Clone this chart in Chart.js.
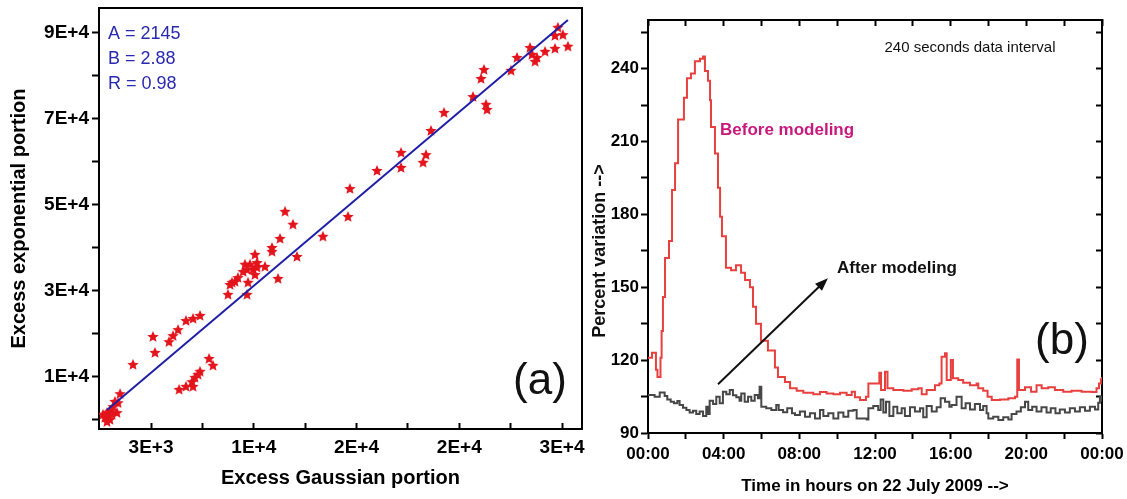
<!DOCTYPE html>
<html>
<head>
<meta charset="utf-8">
<script src="https://cdn.jsdelivr.net/npm/chart.js@4.4.0/dist/chart.umd.min.js"></script>
<style>
  html, body { margin: 0; padding: 0; background: #fff; }
  #wrap { position: relative; width: 1127px; height: 499px; overflow: hidden; }
  #chart-a { position: absolute; left: 0; top: 0; }
  #chart-b { position: absolute; left: 590px; top: 0; }
</style>
</head>
<body>
<div id="wrap">
  <canvas id="chart-a" width="590" height="499"></canvas>
  <canvas id="chart-b" width="537" height="499"></canvas>
</div>
<script>
// ---- panel (a): excess gaussian vs exponential portion ----
const gaussX = [30720, 31060, 30520, 31400, 30520, 29840, 28820, 28950, 29290, 29160,
    27930, 27520, 25680, 25480, 24930, 25820, 25890, 22960, 22070, 20030,
    21730, 21530, 20030, 18390, 16550, 16420, 14710, 12130, 12670, 11790,
    11240, 12940, 11240, 11650, 10760, 10080, 10220, 9950, 9740, 9400,
    9540, 9270, 9610, 9540, 8920, 8720, 8520, 8380, 8240, 10220,
    10080, 6340, 5860, 5380, 4840, 4500, 4220, 3130, 3270, 1770,
    6950, 7220, 6340, 6200, 5990, 5790, 5860, 5380, 4910, 890,
    540, 750, 410, 200, 0, 70, -140, 200, 0, 680, 340, -270];
const expoY = [91200, 89500, 89300, 86800, 86300, 85600, 86500, 84900, 84200, 83300,
    84200, 81200, 81400, 79300, 75100, 73300, 72100, 71400, 67200, 62100,
    61600, 59800, 58600, 57900, 53700, 47200, 42600, 48400, 45400, 42100,
    40000, 37900, 39100, 32800, 35600, 38400, 36500, 34900, 36100, 36100,
    34900, 34400, 31900, 29100, 33000, 32100, 31900, 31400, 29100, 35400,
    33700, 24200, 23500, 23000, 20900, 19500, 18100, 19300, 15600, 12800,
    14200, 12600, 11200, 10500, 9800, 8800, 7700, 7700, 7000, 6000,
    4200, 3900, 3000, 1900, 1600, 700, 500, 0, -500, 1600, 1200, 1200];
// fitted line, end points
const fitX = [0, 31400];
const fitY = [2300, 93000];
const fitNotes = ['A = 2145', 'B = 2.88', 'R = 0.98'];

const aXMajor = [3000, 10000, 17000, 24000, 31000];
const aXLabels = ['3E+3', '1E+4', '2E+4', '2E+4', '3E+4'];
const aXMinor = [6500, 13500, 20500, 27500];
const aYMajor = [10000, 30000, 50000, 70000, 90000];
const aYLabels = ['1E+4', '3E+4', '5E+4', '7E+4', '9E+4'];
const aYMinor = [0, 20000, 40000, 60000, 80000];

// ---- panel (b): percent variation over the day ----
const beforeHours = [0, 0.21, 0.42, 0.5, 0.66, 0.72, 0.79, 0.9, 1.11, 1.27,
    1.43, 1.59, 1.9, 2.06, 2.27, 2.48, 2.75, 2.91, 3.01, 3.17,
    3.28, 3.33, 3.54, 3.7, 3.81, 3.91, 4.12, 4.39, 4.65, 4.92,
    5.13, 5.39, 5.55, 5.71, 5.97, 6.34, 6.71, 6.87, 7.24, 7.51,
    7.86, 8.21, 8.74, 9.09, 9.44, 9.8, 10.15, 10.5, 10.77, 10.94,
    11.21, 11.52, 11.65, 12.23, 12.32, 12.53, 12.66, 12.97, 13.5, 13.94,
    14.29, 14.47, 14.73, 15.17, 15.4, 15.52, 15.7, 15.79, 16.01, 16.12,
    16.4, 16.66, 17.02, 17.37, 17.46, 17.72, 17.95, 18.17, 18.61, 19.05,
    19.4, 19.52, 19.61, 19.93, 20.25, 20.54, 20.81, 21.16, 21.51, 21.95,
    22.39, 22.92, 23.45, 23.71, 23.84, 23.94, 24];
const beforeVals = [121, 123, 116, 113, 121, 132, 146, 162, 169, 190,
    201, 219, 228, 236, 238, 243, 244, 245, 239, 235,
    227, 216, 205, 191, 179, 171, 158, 157, 159, 156,
    153, 150, 142, 135, 128, 124, 117, 113, 111, 108.4,
    107.4, 106.6, 106, 106.9, 106.3, 106, 106.6, 105.6, 107, 104.7,
    103.6, 104.9, 110.4, 114.8, 107.7, 115.2, 108.4, 107.7, 107.4, 108,
    108.4, 106, 107.7, 109.7, 110.4, 121.4, 122.8, 111.8, 120, 112.5,
    111.8, 110.7, 109.7, 110.4, 108.4, 107.4, 104.9, 103.6, 103.8, 104.3,
    104.9, 120.3, 107.7, 108.8, 107, 109.7, 108.4, 108.8, 107.7, 107,
    107.4, 107, 106.9, 108.4, 110.4, 112.1, 113];

const afterHours = [0, 0.35, 0.62, 0.88, 1.02, 1.2, 1.37, 1.55, 1.67, 1.85,
    2.03, 2.2, 2.38, 2.55, 2.73, 2.91, 3.08, 3.17, 3.26, 3.44,
    3.61, 3.79, 3.96, 4.14, 4.32, 4.49, 4.67, 4.84, 4.93, 5.11,
    5.29, 5.46, 5.64, 5.81, 5.9, 5.99, 6.25, 6.52, 6.78, 6.91,
    7.14, 7.36, 7.61, 7.77, 8.03, 8.3, 8.56, 8.83, 9.09, 9.27,
    9.53, 9.8, 10.06, 10.33, 10.59, 10.86, 11.03, 11.56, 11.65, 11.91,
    12.17, 12.3, 12.44, 12.58, 12.76, 12.97, 13.18, 13.41, 13.58, 13.85,
    14.11, 14.38, 14.55, 14.73, 15, 15.26, 15.47, 15.7, 15.93, 16.05,
    16.31, 16.58, 16.79, 17.02, 17.28, 17.55, 17.72, 17.9, 17.99, 18.25,
    18.52, 18.78, 19.05, 19.22, 19.48, 19.71, 19.93, 20.1, 20.31, 20.54,
    20.8, 21.07, 21.29, 21.54, 21.77, 22.04, 22.3, 22.57, 22.83, 23.1,
    23.36, 23.63, 23.8, 23.89, 24];
const afterVals = [105.6, 104.9, 106.7, 105.2, 103.8, 102.9, 102.2, 103.2, 101.5, 100.4,
    99.5, 98.4, 99.2, 97.8, 98.8, 97, 100.8, 97.8, 103.3, 101.9,
    104.9, 102.2, 107, 106, 107.7, 105.5, 104.7, 103.3, 106.3, 102.9,
    104.9, 103.3, 105.6, 104.3, 109, 100.8, 100.2, 99.5, 101.5, 99.5,
    98.5, 100.2, 98.1, 97.4, 98.8, 96.7, 98.1, 96, 99.5, 97,
    98.1, 96, 98.4, 96.7, 99.2, 99.5, 96, 95.6, 100.2, 101.1,
    99.5, 103.8, 98.4, 102.9, 97, 100.8, 98.1, 100.2, 97, 100.6,
    98.8, 100.2, 96.5, 101.1, 98.8, 100.6, 104.3, 102.9, 100.8, 101.5,
    104.9, 100.2, 102.2, 99.7, 101.9, 99.5, 101.1, 98.1, 96, 96.7,
    95.3, 96.5, 95.6, 97.8, 98.8, 100.6, 102.9, 99.5, 100.8, 98.8,
    100.6, 98.4, 100.2, 98.1, 99.7, 98.4, 100.2, 98.8, 100.6, 99.2,
    100.8, 99.7, 102.5, 104.9, 103];

const timeMajor = [0, 4, 8, 12, 16, 20, 24];
const timeLabels = ['00:00', '04:00', '08:00', '12:00', '16:00', '20:00', '00:00'];
const timeMinor = [2, 6, 10, 14, 18, 22];
const pctMajor = [90, 120, 150, 180, 210, 240];
const pctLabels = ['90', '120', '150', '180', '210', '240'];
const pctMinor = [105, 135, 165, 195, 225, 255];

const FONT = '"Liberation Sans", Arial, Helvetica, sans-serif';
Chart.defaults.font.family = FONT;
Chart.defaults.color = '#000';

function setTicks(major, minor) {
    return function (scale) {
        scale.ticks = major.concat(minor).sort((p, q) => p - q).map(v => ({ value: v }));
    };
}

function labelFrom(major, labels) {
    return function (value) {
        const i = major.indexOf(value);
        return i < 0 ? '' : labels[i];
    };
}

function fixWidth(w) {
    return function (scale) {
        scale.width = w;
        scale.paddingTop = 0;
        scale.paddingBottom = 0;
    };
}

function fixHeight(h) {
    return function (scale) {
        scale.height = h;
        scale.paddingLeft = 0;
        scale.paddingRight = 0;
    };
}

function toPoints(xs, ys) {
    return xs.map((x, i) => ({ x: x, y: ys[i] }));
}

function makeStar(r, color) {
    const c = document.createElement('canvas');
    c.width = c.height = 2 * r + 2;
    const ctx = c.getContext('2d');
    ctx.beginPath();
    for (let i = 0; i < 10; i++) {
        const rad = i % 2 ? r * 0.45 : r;
        const ang = -Math.PI / 2 + i * Math.PI / 5;
        ctx.lineTo(r + 1 + rad * Math.cos(ang), r + 1 + rad * Math.sin(ang));
    }
    ctx.closePath();
    ctx.fillStyle = color;
    ctx.fill();
    return c;
}

const frameBorder = { display: true, color: '#000', width: 2 };
const plainEdge = (axis, pos, min, max, size) => ({
    axis: axis, position: pos, type: 'linear', min: min, max: max,
    ticks: { display: false },
    grid: { drawOnChartArea: false, drawTicks: false },
    border: frameBorder,
    afterFit: axis === 'x' ? fixHeight(size) : fixWidth(size)
});

// text for panel (a)
const panelAText = {
    id: 'panelAText',
    afterDraw(chart) {
        const { ctx, chartArea } = chart;
        ctx.save();
        ctx.textBaseline = 'middle';
        ctx.fillStyle = '#2a2ab0';
        ctx.font = '18px ' + FONT;
        fitNotes.forEach((t, i) => ctx.fillText(t, chartArea.left + 9, chartArea.top + 26 + i * 25));
        ctx.fillStyle = '#111';
        ctx.font = '44px ' + FONT;
        ctx.textAlign = 'center';
        ctx.fillText('(a)', chartArea.left + 441, chartArea.top + 374);
        ctx.restore();
    }
};

new Chart(document.getElementById('chart-a'), {
    type: 'scatter',
    data: {
        datasets: [
            {
                label: 'fit',
                data: toPoints(fitX, fitY),
                showLine: true,
                borderColor: '#1f1fa8',
                borderWidth: 2,
                pointRadius: 0
            },
            {
                label: 'excess',
                data: toPoints(gaussX, expoY),
                pointStyle: makeStar(6, '#e3141c'),
                pointRadius: 6
            }
        ]
    },
    options: {
        responsive: false,
        animation: false,
        layout: { padding: 0 },
        plugins: { legend: { display: false }, tooltip: { enabled: false } },
        scales: {
            x: {
                type: 'linear', position: 'bottom', min: -545, max: 32360,
                afterBuildTicks: setTicks(aXMajor, aXMinor),
                afterFit: fixHeight(70),
                ticks: {
                    callback: labelFrom(aXMajor, aXLabels), autoSkip: false, maxRotation: 0,
                    padding: 13, font: { size: 19, weight: 'bold' }
                },
                grid: { drawOnChartArea: false, tickLength: -6, tickWidth: 2, tickColor: '#000' },
                border: frameBorder,
                title: {
                    display: true, text: 'Excess Gaussian portion',
                    font: { size: 20, weight: 'bold' }, padding: { top: 0, bottom: 9 }
                }
            },
            y: {
                type: 'linear', position: 'left', min: -2100, max: 95800,
                afterBuildTicks: setTicks(aYMajor, aYMinor),
                afterFit: fixWidth(99),
                ticks: {
                    callback: labelFrom(aYMajor, aYLabels), autoSkip: false,
                    padding: 3, font: { size: 19, weight: 'bold' }
                },
                grid: { drawOnChartArea: false, tickLength: 7, tickWidth: 2, tickColor: '#000' },
                border: frameBorder,
                title: {
                    display: true, text: 'Excess exponential portion',
                    font: { size: 20, weight: 'bold' }, padding: { top: 7, bottom: 0 }
                }
            },
            xTop: plainEdge('x', 'top', -545, 32360, 8),
            yRight: plainEdge('y', 'right', -2100, 95800, 8)
        }
    },
    plugins: [panelAText]
});

// text and arrow for panel (b)
const panelBText = {
    id: 'panelBText',
    afterDraw(chart) {
        const { ctx, chartArea } = chart;
        const xs = chart.scales.x;
        const ys = chart.scales.y;
        ctx.save();
        ctx.textBaseline = 'middle';
        ctx.fillStyle = '#111';
        ctx.font = '15px ' + FONT;
        ctx.textAlign = 'center';
        ctx.fillText('240 seconds data interval', chartArea.left + 322, chartArea.top + 28);

        ctx.textAlign = 'left';
        ctx.font = 'bold 17px ' + FONT;
        ctx.fillStyle = '#c8197d';
        ctx.fillText('Before modeling', chartArea.left + 72, chartArea.top + 110);
        ctx.fillStyle = '#111';
        ctx.fillText('After modeling', chartArea.left + 189, chartArea.top + 248);

        ctx.font = '44px ' + FONT;
        ctx.textAlign = 'center';
        ctx.fillText('(b)', chartArea.left + 414, chartArea.top + 322);

        // y axis title, drawn here to sit where the original has it
        ctx.save();
        ctx.translate(10, 251);
        ctx.rotate(-Math.PI / 2);
        ctx.font = 'bold 18px ' + FONT;
        ctx.fillText('Percent variation -->', 0, 0);
        ctx.restore();

        // arrow pointing at the lower curve label
        const x0 = xs.getPixelForValue(3.7), y0 = ys.getPixelForValue(110.1);
        const x1 = xs.getPixelForValue(9.51), y1 = ys.getPixelForValue(153.7);
        const ang = Math.atan2(y1 - y0, x1 - x0);
        ctx.strokeStyle = '#111';
        ctx.lineWidth = 2;
        ctx.beginPath();
        ctx.moveTo(x0, y0);
        ctx.lineTo(x1 - 8 * Math.cos(ang), y1 - 8 * Math.sin(ang));
        ctx.stroke();
        ctx.beginPath();
        ctx.moveTo(x1, y1);
        ctx.lineTo(x1 - 13 * Math.cos(ang) + 5 * Math.sin(ang), y1 - 13 * Math.sin(ang) - 5 * Math.cos(ang));
        ctx.lineTo(x1 - 13 * Math.cos(ang) - 5 * Math.sin(ang), y1 - 13 * Math.sin(ang) + 5 * Math.cos(ang));
        ctx.closePath();
        ctx.fillStyle = '#111';
        ctx.fill();
        ctx.restore();
    }
};

new Chart(document.getElementById('chart-b'), {
    type: 'line',
    data: {
        datasets: [
            {
                label: 'After modeling',
                data: toPoints(afterHours, afterVals),
                stepped: true,
                borderColor: '#474747',
                borderWidth: 2,
                pointRadius: 0
            },
            {
                label: 'Before modeling',
                data: toPoints(beforeHours, beforeVals),
                stepped: true,
                borderColor: '#e8403f',
                borderWidth: 2,
                pointRadius: 0
            }
        ]
    },
    options: {
        responsive: false,
        animation: false,
        layout: { padding: 0 },
        plugins: { legend: { display: false }, tooltip: { enabled: false } },
        scales: {
            x: {
                type: 'linear', position: 'bottom', min: 0, max: 24,
                afterBuildTicks: setTicks(timeMajor, timeMinor),
                afterFit: fixHeight(66),
                ticks: {
                    callback: labelFrom(timeMajor, timeLabels), autoSkip: false, maxRotation: 0,
                    padding: 5, font: { size: 17, weight: 'bold' }
                },
                grid: { drawOnChartArea: false, tickLength: 6, tickWidth: 2, tickColor: '#000' },
                border: frameBorder,
                title: {
                    display: true, text: 'Time in hours on 22 July 2009 -->',
                    font: { size: 17, weight: 'bold' }, padding: { top: 0, bottom: 2 }
                }
            },
            y: {
                type: 'linear', position: 'left', min: 90, max: 260,
                afterBuildTicks: setTicks(pctMajor, pctMinor),
                afterFit: fixWidth(58),
                ticks: {
                    callback: labelFrom(pctMajor, pctLabels), autoSkip: false,
                    padding: 2, font: { size: 17, weight: 'bold' }
                },
                grid: { drawOnChartArea: false, tickLength: 7, tickWidth: 2, tickColor: '#000' },
                border: frameBorder
            },
            xTop: {
                axis: 'x', type: 'linear', position: 'top', min: 0, max: 24,
                afterBuildTicks: setTicks(timeMajor, timeMinor),
                afterFit: fixHeight(20),
                ticks: { display: false },
                grid: { drawOnChartArea: false, tickLength: -6, tickWidth: 2, tickColor: '#000' },
                border: frameBorder
            },
            yRight: {
                axis: 'y', type: 'linear', position: 'right', min: 90, max: 260,
                afterBuildTicks: setTicks(pctMajor, pctMinor),
                afterFit: fixWidth(25),
                ticks: { display: false },
                grid: { drawOnChartArea: false, tickLength: -6, tickWidth: 2, tickColor: '#000' },
                border: frameBorder
            }
        }
    },
    plugins: [panelBText]
});
</script>
</body>
</html>
